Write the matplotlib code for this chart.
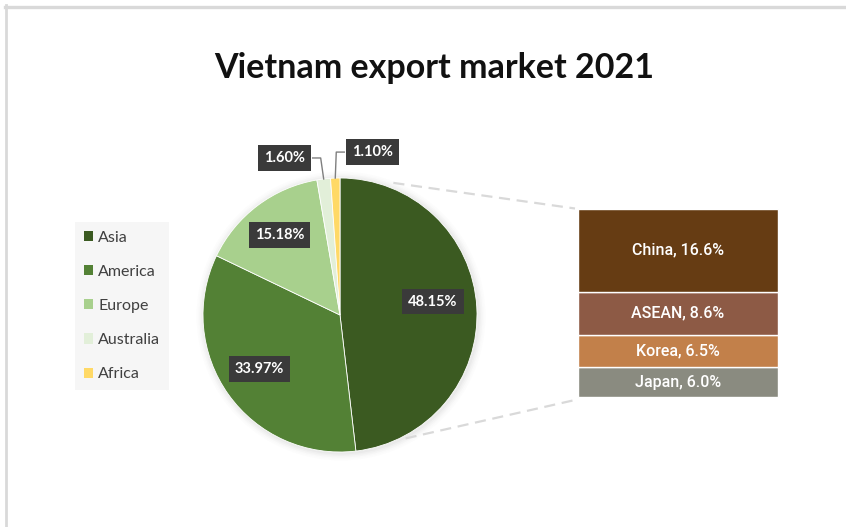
import numpy as np
import matplotlib.pyplot as plt
from matplotlib.patches import Circle

plt.rcParams['font.family'] = ['Lato', 'DejaVu Sans']

# export share by region
regions = ['Asia', 'America', 'Europe', 'Australia', 'Africa']
shares = [48.15, 33.97, 15.18, 1.60, 1.10]
pie_colors = ['#3b5a21', '#538135', '#a8d08d', '#e2efd9', '#ffd966']

# breakdown of the Asia slice
asia_names = ['China', 'ASEAN', 'Korea', 'Japan']
asia_shares = [16.6, 8.6, 6.5, 6.0]
asia_colors = ['#663c13', '#8d5a45', '#c2804a', '#8a8b80']

W, H = 846, 527
fig = plt.figure(figsize=(W / 100, H / 100), dpi=100)
ax = fig.add_axes([0, 0, 1, 1])

# frame around the chart area
fig.add_artist(plt.Line2D([5 / W, 1], [1 - 6.5 / H, 1 - 6.5 / H], color='#d9d9d9', lw=2.4))
fig.add_artist(plt.Line2D([6 / W, 6 / W], [0, 1 - 5 / H], color='#d9d9d9', lw=2.0))

cx, cy, R = 340, H - 315, 137

# soft shadow behind the pie
for i, a in enumerate([0.05, 0.04, 0.03, 0.02, 0.015]):
    ax.add_patch(Circle((cx + 1, cy - 1), R + 1.5 * (i + 1), color='#7f7f7f', alpha=a, lw=0, zorder=1))

wedges, _ = ax.pie(shares, colors=pie_colors, startangle=90, counterclock=False,
                   center=(cx, cy), radius=R, frame=True,
                   wedgeprops=dict(linewidth=0.6, edgecolor='white'))
for w in wedges:
    w.set_zorder(2)
ax.set_xlim(0, W)
ax.set_ylim(0, H)
ax.set_aspect('equal')
ax.axis('off')

box = dict(boxstyle='square,pad=0.4', fc='#3a3a3a', ec='none')
lbl_kw = dict(color='white', fontsize=10.5, fontweight='bold', ha='center', va='center', bbox=box, zorder=5)

# labels inside the big slices
inner_pos = [(0.68, 8), (0.72, 3), (0.73, 0)]
for w, val, (r, shift) in zip(wedges[:3], shares[:3], inner_pos):
    ang = np.deg2rad((w.theta1 + w.theta2) / 2)
    ax.text(cx + r * R * np.cos(ang), cy + r * R * np.sin(ang) + shift, f'{val:.2f}%', **lbl_kw)

# labels for the thin slices with leader lines
offsets = [(-39, 21), (37, 26)]
for w, val, (dx, dy) in zip(wedges[3:], shares[3:], offsets):
    ang = np.deg2rad((w.theta1 + w.theta2) / 2)
    ex, ey = cx + 1.0 * R * np.cos(ang), cy + 1.0 * R * np.sin(ang)
    tx, ty = ex + dx, ey + dy
    side = 1 if dx < 0 else -1
    elbow_x = tx + side * 36
    ax.plot([tx + side * 28, elbow_x, ex], [ty, ty, ey], color='#7f7f7f', lw=1.0, zorder=4)
    ax.text(tx, ty, f'{val:.2f}%', **lbl_kw)

# stacked bar for the Asia breakdown
scale = 5.0
bx, bw = 678, 200
base = H - 397
bottom = base
for name, val, col in reversed(list(zip(asia_names, asia_shares, asia_colors))):
    h = val * scale
    ax.bar(bx, h, bottom=bottom, width=bw, color=col, edgecolor='white', linewidth=1.0, zorder=3)
    ax.text(bx, bottom + h / 2, f'{name}, {val}%', color='white', fontsize=11.5,
            family=['Roboto', 'DejaVu Sans'], fontweight='medium',
            ha='center', va='center', zorder=4)
    bottom += h
top = bottom

# dashed connectors from the Asia slice to the bar
a1, a2 = np.deg2rad(68), np.deg2rad(-62)
ax.plot([cx + 1.04 * R * np.cos(a1), bx - bw / 2 - 3], [cy + 1.04 * R * np.sin(a1), top],
        color='#d9d9d9', lw=1.6, ls=(0, (5, 3)), zorder=1)
ax.plot([cx + 1.02 * R * np.cos(a2), bx - bw / 2 - 3], [cy + 1.02 * R * np.sin(a2), base - 3],
        color='#d9d9d9', lw=1.6, ls=(0, (5, 3)), zorder=1)

ax.text(434, H - 68, 'Vietnam export market 2021', fontsize=24.5, fontweight='bold',
        ha='center', va='center', color='#111111')

leg = fig.legend(wedges, regions, loc='upper left', bbox_to_anchor=(75 / W, 1 - 222 / H),
                 frameon=True, fancybox=False, facecolor='#f4f4f4', edgecolor='none',
                 fontsize=11.5, labelspacing=1.26, handlelength=0.6, handleheight=0.6,
                 handletextpad=0.3, borderpad=0.55, borderaxespad=0)
for t in leg.get_texts():
    t.set_color('#404040')
for hnd in leg.legend_handles:
    hnd.set_edgecolor('none')

fig.savefig('out.png', dpi=100, facecolor='white')
